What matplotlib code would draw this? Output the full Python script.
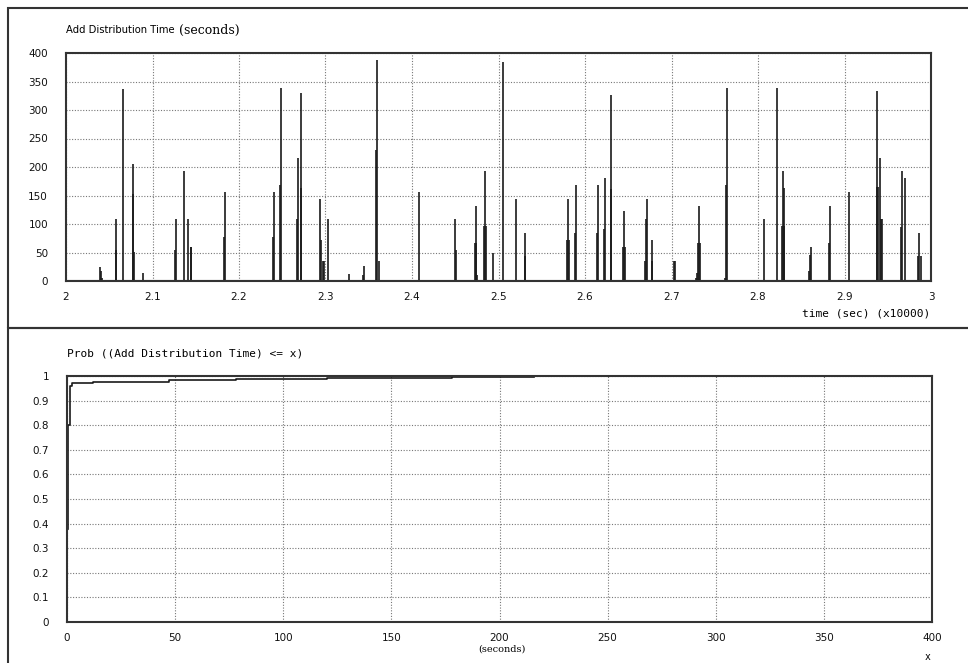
import matplotlib.pyplot as plt
from matplotlib.patches import Rectangle
from matplotlib.ticker import FormatStrFormatter, MultipleLocator

# Top panel: add distribution time per event (time in units of 10000 sec)
spike_times = [2.0393, 2.0400, 2.0420, 2.0574, 2.0580, 2.0659, 2.0771, 2.0778, 2.0790, 2.0890,
               2.1264, 2.1270, 2.1360, 2.1410, 2.1445, 2.1450, 2.1827, 2.1835,
               2.2397, 2.2402, 2.2474, 2.2480, 2.2670, 2.2678, 2.2713, 2.2720,
               2.2936, 2.2943, 2.2975, 2.2982, 2.3033, 2.3270, 2.3430, 2.3440,
               2.3588, 2.3598, 2.3620, 2.4077, 2.4500, 2.4508, 2.4730, 2.4738,
               2.4745, 2.4755, 2.4836, 2.4845, 2.4858, 2.4933, 2.5057, 2.5199,
               2.5303, 2.5312, 2.5788, 2.5798, 2.5810, 2.5884, 2.5892, 2.6139,
               2.6145, 2.6220, 2.6230, 2.6297, 2.6305, 2.6440, 2.6455, 2.6465,
               2.6690, 2.6705, 2.6720, 2.6770, 2.6780, 2.7025, 2.7035, 2.7280,
               2.7292, 2.7302, 2.7313, 2.7325, 2.7620, 2.7630, 2.7637, 2.8073,
               2.8216, 2.8280, 2.8287, 2.8298, 2.8305, 2.8593, 2.8603, 2.8617,
               2.8820, 2.8832, 2.9056, 2.9370, 2.9380, 2.9385, 2.9410, 2.9420,
               2.9435, 2.9650, 2.9665, 2.9700, 2.9850, 2.9862, 2.9885]
spike_values = [24, 17, 5, 54, 109, 336, 205, 152, 51, 14,
                54, 109, 193, 109, 60, 60, 78, 157,
                78, 157, 168, 339, 109, 216, 329, 164,
                144, 72, 35, 35, 109, 12, 10, 26,
                229, 388, 35, 157, 109, 54, 67, 132,
                67, 10, 97, 193, 97, 50, 384, 144,
                84, 43, 72, 144, 72, 84, 168, 84,
                168, 91, 180, 161, 326, 60, 123, 60,
                35, 109, 144, 72, 35, 35, 35, 5,
                14, 67, 132, 67, 5, 168, 339, 109,
                338, 97, 193, 163, 97, 17, 46, 60,
                67, 132, 157, 333, 165, 165, 216, 109,
                109, 95, 193, 180, 43, 84, 43]

# Bottom panel: cumulative distribution of the add distribution time
cdf_x = [0.5, 0.5, 1.2, 2.5, 12, 47, 78, 120, 178, 216]
cdf_y = [0.38, 0.80, 0.96, 0.97, 0.977, 0.984, 0.988, 0.992, 0.997, 0.997]

W, H = 968, 663
fig = plt.figure(figsize=(W / 100, H / 100), dpi=100)

# panel frames
fig.patches.append(Rectangle((8 / W, 1 - 328 / H), 1.0, 320 / H, transform=fig.transFigure,
                             fill=False, edgecolor='#333333', linewidth=1.5))
fig.patches.append(Rectangle((8 / W, -0.01), 1.0, 1 - 328 / H + 0.01, transform=fig.transFigure,
                             fill=False, edgecolor='#333333', linewidth=1.5))

grid_kw = dict(color='#777777', linestyle=(0, (1, 1.5)), linewidth=0.8)
mono = 'DejaVu Sans Mono'

# ---- top panel
ax1 = fig.add_axes([66 / W, 1 - 281 / H, 865 / W, 228 / H])
ax1.vlines(spike_times, 0, spike_values, color='#1a1a1a', linewidth=1.2)
ax1.axhline(0, color='black', linewidth=2.2)
ax1.set_xlim(2, 3)
ax1.set_ylim(0, 400)
ax1.xaxis.set_major_locator(MultipleLocator(0.1))
ax1.yaxis.set_major_locator(MultipleLocator(50))
ax1.xaxis.set_major_formatter(FormatStrFormatter('%g'))
ax1.grid(True, **grid_kw)
ax1.tick_params(length=0, labelsize=7.5, colors='#111111')
ax1.tick_params(axis='y', pad=13)
ax1.tick_params(axis='x', pad=8)

t1 = fig.text(66 / W, 1 - 30 / H, 'Add Distribution Time', family='DejaVu Sans', fontsize=7.2,
              va='center')
fig.canvas.draw()
t1_end = t1.get_window_extent().x1
fig.text((t1_end + 4) / W, 1 - 30 / H, '(seconds)', family='DejaVu Serif', fontsize=9,
         va='center')
fig.text(930 / W, 1 - 314 / H, 'time (sec) (x10000)', family=mono, fontsize=8,
         ha='right', va='center')

# ---- bottom panel
ax2 = fig.add_axes([67 / W, 1 - 622 / H, 865 / W, 246 / H])
ax2.step(cdf_x, cdf_y, where='post', color='#1a1a1a', linewidth=1.2)
ax2.set_xlim(0, 400)
ax2.set_ylim(0, 1)
ax2.xaxis.set_major_locator(MultipleLocator(50))
ax2.yaxis.set_major_locator(MultipleLocator(0.1))
ax2.yaxis.set_major_formatter(FormatStrFormatter('%g'))
ax2.grid(True, **grid_kw)
ax2.tick_params(length=0, labelsize=7.5, colors='#111111')
ax2.tick_params(axis='y', pad=13)
ax2.tick_params(axis='x', pad=8)

fig.text(67 / W, 1 - 353 / H, 'Prob ((Add Distribution Time) <= x)', family=mono, fontsize=8,
         va='center')
fig.text(502 / W, 1 - 649 / H, '(seconds)', family='DejaVu Serif', fontsize=7,
         ha='center', va='center')
fig.text(928 / W, 1 - 657 / H, 'x', family=mono, fontsize=7, ha='center', va='center')

for ax in (ax1, ax2):
    for s in ax.spines.values():
        s.set_color('#333333')
        s.set_linewidth(1.5)

plt.savefig('out.png', dpi=100)
